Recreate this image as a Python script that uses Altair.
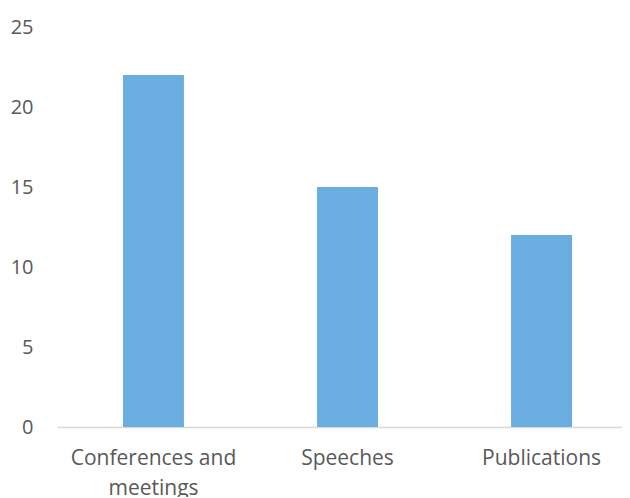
import altair as alt
import pandas as pd

categories = ["Conferences and meetings", "Speeches", "Publications"]
values = [22, 15, 12]

df = pd.DataFrame({"category": categories, "value": values})

bars = alt.Chart(df).mark_bar(color="#6AADE0").encode(
    x=alt.X(
        "category:N",
        sort=categories,
        title=None,
        scale=alt.Scale(paddingInner=0.686, paddingOuter=0.299, align=0.569),
        axis=alt.Axis(
            labelAngle=0,
            labelFont="Open Sans",
            labelFontSize=21,
            labelColor="#595959",
            labelPadding=20,
            labelLineHeight=30,
            ticks=False,
            domainColor="#D9D9D9",
            domainWidth=1.5,
            labelExpr="datum.label == 'Conferences and meetings' ? ['Conferences and', 'meetings'] : datum.label",
        ),
    ),
    y=alt.Y(
        "value:Q",
        title=None,
        scale=alt.Scale(domain=[0, 25], nice=False),
        axis=alt.Axis(
            values=[0, 5, 10, 15, 20, 25],
            grid=False,
            domain=False,
            ticks=False,
            labelFont="Open Sans",
            labelFontSize=20,
            labelColor="#595959",
            labelPadding=24,
        ),
    ),
)

chart = bars.properties(
    width=565,
    height=400,
    autosize=alt.AutoSizeParams(type="none"),
    padding={"left": 49, "top": 19, "right": 0, "bottom": 70},
).configure_view(stroke=None)

chart.save("out.html", embed_options={"renderer": "svg", "actions": False})
